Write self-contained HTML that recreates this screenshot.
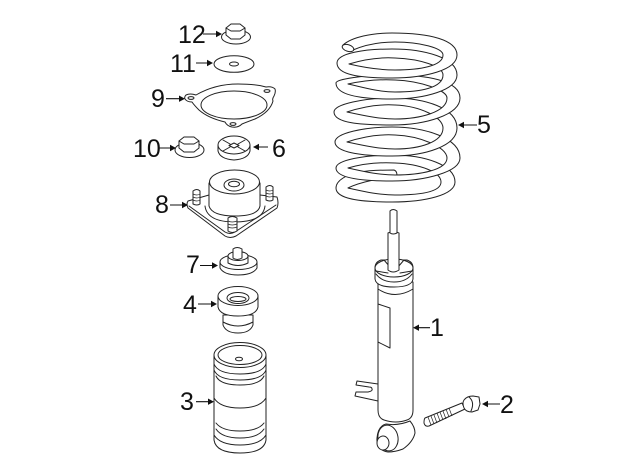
<!DOCTYPE html>
<html><head><meta charset="utf-8"><style>
html,body{margin:0;padding:0;background:#fff}
svg{display:block}
text{font-family:"Liberation Sans",sans-serif;font-size:25px;fill:#111}
.l{fill:none;stroke:#222;stroke-width:1;stroke-linejoin:round;stroke-linecap:round}
.w{fill:#fff;stroke:#222;stroke-width:1;stroke-linejoin:round}
.f{fill:#fff;stroke:none}
.t{fill:none;stroke:#222;stroke-width:.7}
.a{fill:none;stroke:#111;stroke-width:1.1}
.h{fill:#111;stroke:none}
</style></head><body>
<svg width="640" height="471" viewBox="0 0 640 471" xmlns="http://www.w3.org/2000/svg">
<!-- SPRING: back arcs bottom-up -->
<path class="f" d="M336 188C336 180 348 174 360 172C372 170 385 170 394 170C397 171 397 174 397 177C380 178 360 182 348 188Z"/>
<path class="l" d="M336 188C336 180 348 174 360 172C372 170 385 170 394 170C397 171 397 174 397 177C380 178 360 182 348 188"/>
<path class="f" d="M336 168C336 160 365 155 392 155C425 155 455 165 455 182L441 182C441 172 420 164 395 163C378 162 362 164 348 168Z"/>
<path class="l" d="M336 168C336 160 365 155 392 155C425 155 455 165 455 182M441 182C441 172 420 164 395 163C378 162 362 164 348 168"/>
<path class="f" d="M335 142C335 133 365 127 392 127C425 127 460 138 460 158L447 158C447 147 420 136 395 135C378 134 362 137 347 142Z"/>
<path class="l" d="M335 142C335 133 365 127 392 127C425 127 460 138 460 158M447 158C447 147 420 136 395 135C378 134 362 137 347 142"/>
<path class="f" d="M334 112C334 104 365 98 392 98C425 98 457 108 457 128L443 128C443 117 420 106 395 105C378 104 362 107 347 112Z"/>
<path class="l" d="M334 112C334 104 365 98 392 98C425 98 457 108 457 128M443 128C443 117 420 106 395 105C378 104 362 107 347 112"/>
<path class="f" d="M336 83C336 79 365 75 392 75C425 75 460 80 460 98L447 98C447 90 420 81 395 80C378 79 362 81 348 84Z"/>
<path class="l" d="M336 83C336 79 365 75 392 75C425 75 460 80 460 98M447 98C447 90 420 81 395 80C378 79 362 81 348 84"/>
<path class="f" d="M337 63C337 53 365 49 392 49C425 49 457 58 457 75L443 75C443 66 420 59 395 58C378 57 362 60 349 64Z"/>
<path class="l" d="M337 63C337 53 365 49 392 49C425 49 457 58 457 75M443 75C443 66 420 59 395 58C378 57 362 60 349 64"/>
<path class="f" d="M343 45C352 37 372 33 392 33C430 33 457 40 457 55L443 55C443 48 420 42 395 42C380 42 365 45 353 50Z"/>
<path class="l" d="M343 45C352 37 372 33 392 33C430 33 457 40 457 55M443 55C443 48 420 42 395 42C380 42 365 45 353 50"/>
<ellipse class="w" cx="348" cy="48" rx="6" ry="3.3" transform="rotate(18 348 48)"/>
<!-- front arcs bottom-up -->
<path class="f" d="M455 182C455 195 425 202 392 202C360 202 336 199 336 188L348 188C362 191 378 195 395 195C420 195 441 192 441 182Z"/>
<path class="l" d="M455 182C455 195 425 202 392 202C360 202 336 199 336 188M348 188C362 191 378 195 395 195C420 195 441 192 441 182"/>
<path class="f" d="M460 158C460 172 425 181 392 181C360 181 336 178 336 168L348 168C362 171 378 175 395 175C420 175 447 170 447 158Z"/>
<path class="l" d="M460 158C460 172 425 181 392 181C360 181 336 178 336 168M348 168C362 171 378 175 395 175C420 175 447 170 447 158"/>
<path class="f" d="M457 128C457 146 425 156 392 156C360 156 335 152 335 142L347 142C362 145 378 149 395 149C420 149 443 142 443 128Z"/>
<path class="l" d="M457 128C457 146 425 156 392 156C360 156 335 152 335 142M347 142C362 145 378 149 395 149C420 149 443 142 443 128"/>
<path class="f" d="M460 98C460 115 425 125 392 125C360 125 334 123 334 112L347 112C362 115 378 119 395 119C420 119 447 112 447 98Z"/>
<path class="l" d="M460 98C460 115 425 125 392 125C360 125 334 123 334 112M347 112C362 115 378 119 395 119C420 119 447 112 447 98"/>
<path class="f" d="M457 75C457 90 425 99 392 99C360 99 336 95 336 83L348 84C362 87 378 92 395 92C420 92 443 88 443 75Z"/>
<path class="l" d="M457 75C457 90 425 99 392 99C360 99 336 95 336 83M348 84C362 87 378 92 395 92C420 92 443 88 443 75"/>
<path class="f" d="M457 55C457 70 425 78 392 78C360 78 337 75 337 63L349 64C362 67 378 70 395 70C420 70 443 66 443 55Z"/>
<path class="l" d="M457 55C457 70 425 78 392 78C360 78 337 75 337 63M349 64C362 67 378 70 395 70C420 70 443 66 443 55"/>

<!-- SHOCK -->
<path class="w" d="M357 381L378 384V401L355 396L356 392L368 392Q373 391 372 389Q372 387 369 387L356 385Z"/>
<path class="w" d="M378 282V410Q378 418 384 420Q396 424 407 420Q413 418 413 410V282Z"/>
<path class="l" d="M378 289Q395 300 413 289M378 342L390 348V308L378 304"/>
<path class="w" d="M375 268Q375 262 381 260L407 260Q413 262 413 268V279Q412 287 394 287Q376 287 375 279Z"/>
<ellipse class="w" cx="394" cy="268" rx="19" ry="9"/>
<path class="l" d="M376 274Q382 282 394 282Q406 282 412 274M384 260L390 267M404 260L398 267M376 271L388 273M412 271L400 273"/>
<path class="w" d="M388 233V270Q393 274 399 270V233Q394 230 388 233Z"/>
<path class="w" d="M390 233V211Q393 208 397 211V233Q393 235 390 233Z"/>
<!-- eye -->
<path class="w" d="M386 424Q398 426 410 421Q415 427 415 433Q413 442 403 449Q395 452 388 452Q376 450 377 438Q378 426 386 424Z"/>
<ellipse class="l" cx="388" cy="438" rx="10" ry="13" transform="rotate(-10 388 438)"/>
<ellipse class="w" cx="383" cy="443" rx="6" ry="7"/>

<!-- BOLT -->
<path class="w" d="M425 418L462 403L465 409L429 426Q425 427 424 423Q424 419 425 418Z"/>
<path class="t" d="M428 417L431 425M431 416L434 424M434 415L437 423M437 413L440 421M440 412L443 420M443 411L446 419M446 409L449 417M449 408L452 416"/>
<path class="w" d="M464 400Q467 396 473 396L479 397L480 404L478 410L472 412Q466 412 464 408Q462 403 464 400Z"/>
<path class="l" d="M469 397Q475 402 471 411"/>

<!-- 12 nut -->
<ellipse class="w" cx="236" cy="37" rx="14.5" ry="7"/>
<path class="w" d="M226 28L231 24L240 24L245 28V35L240 39L231 39L226 35Z"/>
<path class="l" d="M226 28L231 31L240 31L245 28"/>
<!-- 11 washer -->
<ellipse class="w" cx="234" cy="64" rx="20" ry="8.3"/>
<ellipse class="l" cx="234" cy="64" rx="4.5" ry="2"/>
<!-- 9 gasket -->
<path class="w" d="M186 95Q190 93 196 95Q215 84 238 84Q255 84 266 87Q272 86 275 89Q276 92 274 96Q272 99 273 101Q270 112 255 119Q247 122 242 124Q238 128 232 127Q227 126 225 122Q208 118 199 110Q194 105 192 102Q187 102 185 99Q184 97 186 95Z"/>
<ellipse class="l" cx="234" cy="105" rx="33" ry="14"/>
<ellipse class="l" cx="191" cy="98" rx="3" ry="1.4"/>
<ellipse class="l" cx="267" cy="91" rx="3" ry="1.4"/>
<ellipse class="l" cx="233" cy="124" rx="3" ry="1.4"/>
<!-- 10 nut -->
<ellipse class="w" cx="189.5" cy="150" rx="14.5" ry="7.5"/>
<path class="w" d="M179 141L184 137L194 137L199 141V148L194 152L184 152L179 148Z"/>
<path class="l" d="M179 141L184 144L194 144L199 141"/>
<!-- 6 -->
<path class="w" d="M218 145V151Q220 159 234 160Q248 159 250 151V145Z"/>
<ellipse class="w" cx="234" cy="145" rx="16" ry="9"/>
<path class="l" d="M223 140L230 144M245 140L238 144M223 151L230 147M245 151L238 147M229 145.500L234 143L239 145.500L234 148Z"/>
<!-- 8 mount -->
<path class="w" d="M188 201L209 195L260 195L277 197Q279 203 277 208L236 236Q230 239 225 236L188 208Q186 204 188 201Z"/>
<path class="l" d="M189 206L225 232Q230 235 235 232L276 205"/>
<path class="l" d="M205 206Q207 222 235 222Q263 222 265 206"/>
<path class="w" d="M209 183V206Q212 216 235 216Q258 216 260 206V183Z"/>
<ellipse class="w" cx="234.500" cy="182" rx="25" ry="12"/>
<ellipse class="l" cx="234" cy="185" rx="10" ry="6"/>
<ellipse class="l" cx="234" cy="184" rx="5.500" ry="2.800"/>
<path class="w" d="M193 191Q197 188 200 191V204Q197 206 193 204Z"/>
<path class="t" d="M193 194Q197 196 200 194M193 197Q197 199 200 197M193 200Q197 202 200 200"/>
<path class="w" d="M266 187Q270 184 273 187V200Q270 202 266 200Z"/>
<path class="t" d="M266 190Q270 192 273 190M266 193Q270 195 273 193M266 196Q270 198 273 196"/>
<path class="w" d="M228 218Q232 215 237 218V231Q232 234 228 231Z"/>
<path class="t" d="M228 221Q232 223 237 221M228 224Q232 226 237 224M228 227Q232 229 237 227"/>
<!-- 7 -->
<path class="w" d="M220 262V268Q224 275 238 275Q253 275 257 268V262Z"/>
<ellipse class="w" cx="238.500" cy="262" rx="18.500" ry="7.500"/>
<path class="w" d="M228 256V263Q238 268 248 263V256Z"/>
<ellipse class="w" cx="238" cy="256" rx="10" ry="4.500"/>
<path class="w" d="M233 249Q237 246 242 249V258Q237 261 233 258Z"/>
<!-- 4 -->
<path class="w" d="M223 315V325Q226 333 238 333Q250 333 253 325V315Z"/>
<path class="l" d="M223 322Q238 330 253 322"/>
<path class="w" d="M218 296V307Q220 316 238 316Q256 316 258 307V296Z"/>
<ellipse class="w" cx="238" cy="296" rx="20" ry="9.500"/>
<ellipse class="l" cx="238" cy="298" rx="11" ry="5.500"/>
<ellipse class="l" cx="238" cy="299" rx="8" ry="2.500"/>
<!-- 3 -->
<path class="w" d="M214 356V440Q216 453 240 453Q264 453 266 440V356Z"/>
<ellipse class="w" cx="240" cy="355" rx="26" ry="12.500"/>
<ellipse class="l" cx="240" cy="355" rx="22" ry="9.500"/>
<ellipse class="l" cx="239" cy="359" rx="3.500" ry="1.800"/>
<path class="l" d="M214 364Q218 374 240 374Q262 374 266 364M214 370Q218 380 240 380Q262 380 266 370M216 376Q220 385 240 385Q260 385 264 376M214 398Q220 408 240 408Q260 408 266 398M216 423Q222 431 240 431Q258 431 264 423M216 429Q222 438 240 438Q258 438 264 429M214 435Q220 445 240 445Q260 445 266 435"/>

<!-- ARROWS -->
<path class="a" d="M203 34H218M196 63H209M166 98.700H181M158 148H172M268 147H257M170 205H184M200 265.500H214M198 304H213M196 401.700H210M477 125H462M430 327.700H417M500 404H486"/>
<path class="h" d="M222 34l-6-3.200v6.400zM213 63l-6-3.200v6.400zM185 98.700l-6-3.200v6.400zM176 148l-6-3.200v6.400zM253 147l6-3.200v6.400zM188 205l-6-3.200v6.400zM218 265.500l-6-3.200v6.400zM217 304l-6-3.200v6.400zM214 401.700l-6-3.200v6.400zM458 125l6-3.200v6.400zM413 327.700l6-3.200v6.400zM482 404l6-3.200v6.400z"/>

<!-- LABELS -->
<text x="178" y="43">12</text>
<text x="170" y="72">11</text>
<text x="151" y="107">9</text>
<text x="133" y="157">10</text>
<text x="272" y="157">6</text>
<text x="155" y="213">8</text>
<text x="186" y="273">7</text>
<text x="183" y="313">4</text>
<text x="180" y="410">3</text>
<text x="477" y="133">5</text>
<text x="430" y="336">1</text>
<text x="500" y="413">2</text>
</svg>
</body></html>
